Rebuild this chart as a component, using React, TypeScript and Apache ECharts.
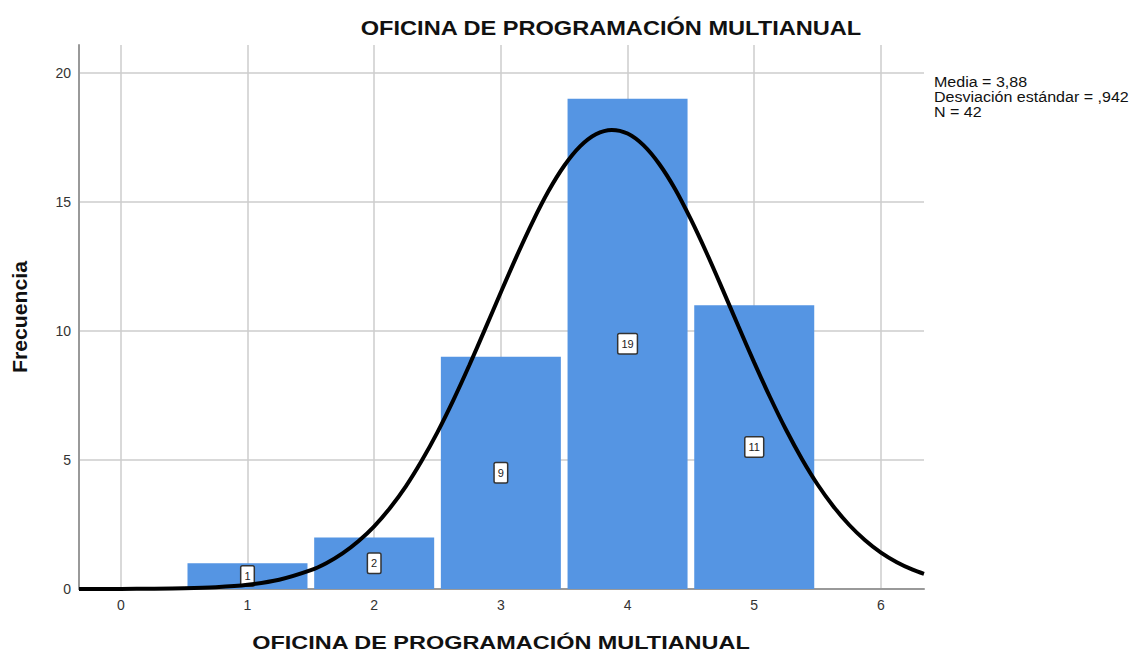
import React, { useEffect, useRef } from "react";
import * as echarts from "echarts";

const categories = [1, 2, 3, 4, 5];
const frequencies = [1, 2, 9, 19, 11];
const xTicks = [0, 1, 2, 3, 4, 5, 6];
const yTicks = [0, 5, 10, 15, 20];
const curveX = [-0.33, 0, 0.25, 0.5, 0.75, 1, 1.25, 1.5, 1.625, 1.75, 1.875, 2, 2.125, 2.25, 2.375, 2.5, 2.625, 2.75, 2.875, 3, 3.125, 3.25, 3.375, 3.5, 3.625, 3.75, 3.875, 4, 4.125, 4.25, 4.375, 4.5, 4.625, 4.75, 4.875, 5, 5.125, 5.25, 5.375, 5.5, 5.625, 5.75, 5.875, 6, 6.125, 6.25, 6.34];
const curveY = [0.001, 0.004, 0.011, 0.028, 0.071, 0.166, 0.361, 0.731, 1.01, 1.38, 1.85, 2.43, 3.14, 3.98, 4.97, 6.08, 7.32, 8.66, 10.07, 11.5, 12.9, 14.22, 15.41, 16.4, 17.15, 17.62, 17.79, 17.65, 17.2, 16.47, 15.5, 14.32, 13.01, 11.61, 10.18, 8.77, 7.43, 6.18, 5.05, 4.05, 3.2, 2.48, 1.89, 1.41, 1.04, 0.75, 0.59];
const statsLines = ["Media = 3,88", "Desviación estándar = ,942", "N = 42"];
const titleText = "OFICINA DE PROGRAMACIÓN MULTIANUAL";
const xName = "OFICINA DE PROGRAMACIÓN MULTIANUAL";
const yName = "Frecuencia";

export default function App() {
  const ref = useRef<HTMLDivElement>(null);
  useEffect(() => {
    if (!ref.current) return;
    const chart = echarts.init(ref.current, null, { renderer: "svg" });
    const font = "'Liberation Sans', Arial, sans-serif";
    chart.setOption({
      animation: false,
      textStyle: { fontFamily: font },
      grid: { left: 79, right: 207, top: 45, bottom: 64, containLabel: false },
      xAxis: {
        type: "value",
        min: -0.33,
        max: 6.34,
        axisLine: { show: true, onZero: false, lineStyle: { color: "#999", width: 2 } },
        axisTick: { show: false, customValues: xTicks },
        axisLabel: { customValues: xTicks, color: "#333", fontSize: 14, margin: 9 },
        splitLine: { show: true, lineStyle: { color: "#cccccc", width: 1.5 } },
      },
      yAxis: {
        type: "value",
        min: 0,
        max: 21.08,
        axisLine: { show: true, onZero: false, lineStyle: { color: "#999", width: 2 } },
        axisTick: { show: false, customValues: yTicks },
        axisLabel: { customValues: yTicks, color: "#333", fontSize: 14, margin: 8 },
        splitLine: { show: true, lineStyle: { color: "#cccccc", width: 1.5 } },
      },
      series: [
        {
          type: "bar",
          data: categories.map((c, i) => [c, frequencies[i]]),
          barWidth: 120,
          itemStyle: { color: "#5595e3" },
          label: {
            show: true,
            position: "inside",
            formatter: (p: any) => String(p.value[1]),
            color: "#222",
            fontSize: 11,
            backgroundColor: "#fff",
            borderColor: "#333",
            borderWidth: 1.5,
            borderRadius: 1,
            padding: [4, 3, 4, 3],
          },
          z: 2,
        },
        {
          type: "line",
          data: curveX.map((x, i) => [x, curveY[i]]),
          smooth: 0.3,
          showSymbol: false,
          lineStyle: { color: "#000", width: 4 },
          z: 3,
        },
      ],
      graphic: [
        {
          type: "text",
          x: 611,
          y: 28,
          scaleX: 1.18,
          style: { text: titleText, font: `bold 20px ${font}`, fill: "#111", textAlign: "center", textVerticalAlign: "middle" },
        },
        {
          type: "text",
          x: 501,
          y: 643,
          scaleX: 1.235,
          style: { text: xName, font: `bold 19px ${font}`, fill: "#111", textAlign: "center", textVerticalAlign: "middle" },
        },
        {
          type: "text",
          x: 20,
          y: 317,
          rotation: Math.PI / 2,
          scaleX: 1.06,
          style: { text: yName, font: `bold 20px ${font}`, fill: "#111", textAlign: "center", textVerticalAlign: "middle" },
        },
        ...statsLines.map((t, i) => ({
          type: "text",
          x: 934,
          y: 82 + i * 15,
          scaleX: 1.07,
          style: { text: t, font: `15px ${font}`, fill: "#111", textAlign: "left", textVerticalAlign: "middle" },
        })),
      ],
    });
    return () => chart.dispose();
  }, []);
  return <div ref={ref} style={{ width: 1131, height: 653, position: "absolute", left: 0, top: 0 }} />;
}
